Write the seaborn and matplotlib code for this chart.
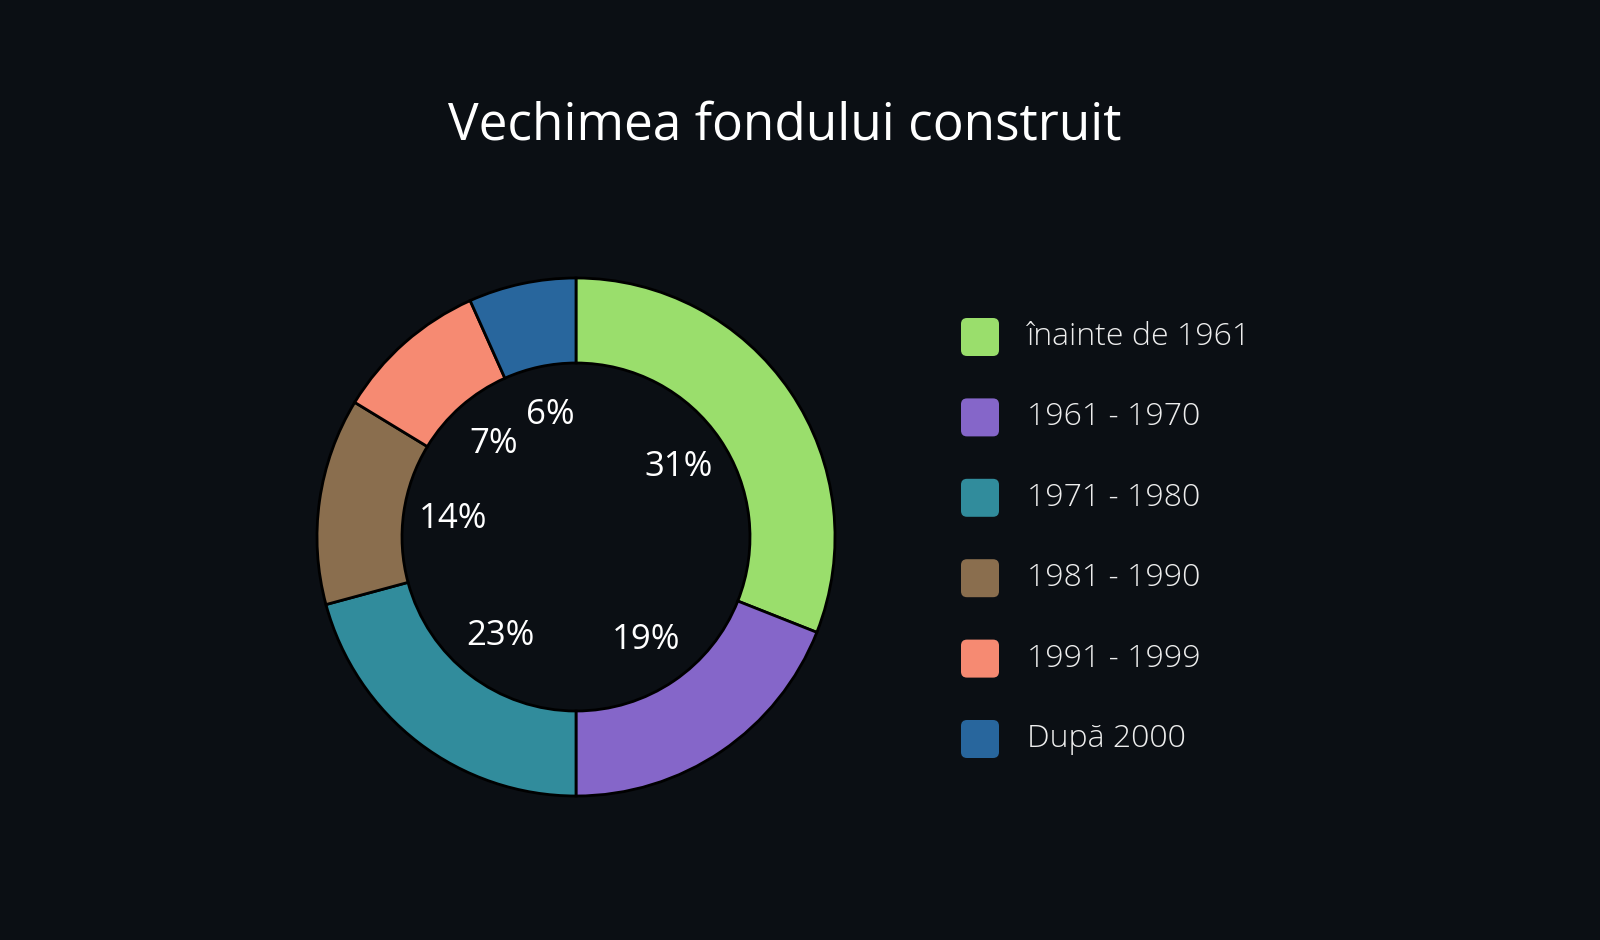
import numpy as np
import matplotlib
matplotlib.use("Agg")
import matplotlib.pyplot as plt
from matplotlib.patches import FancyBboxPatch
import seaborn as sns

# data
categories = ["înainte de 1961", "1961 - 1970", "1971 - 1980", "1981 - 1990", "1991 - 1999", "După 2000"]
shares = [31.0, 19.0, 20.8, 12.9, 9.6, 6.7]
pct_labels = ["31%", "19%", "23%", "14%", "7%", "6%"]
colors = ["#9ADE6C", "#8566C9", "#318C9C", "#8A6E4E", "#F68A72", "#28669D"]
title = "Vechimea fondului construit"

bg = "#0B0F14"
sns.set_theme(style="dark", rc={"axes.facecolor": bg, "figure.facecolor": bg})
plt.rcParams["font.family"] = ["Open Sans", "DejaVu Sans"]

W, H = 1600, 940
fig = plt.figure(figsize=(16, 9.4), dpi=100)

# donut axes (pixel layout: center 576,537, radius 259)
cx, cy, R = 576, 537, 259
half = 280
ax = fig.add_axes([(cx - half) / W, (H - cy - half) / H, 2 * half / W, 2 * half / H])
ax.pie(shares, colors=colors, startangle=90, counterclock=False, radius=1,
       wedgeprops=dict(width=85 / R, edgecolor="black", linewidth=2))
lim = half / R
ax.set_xlim(-lim, lim)
ax.set_ylim(-lim, lim)
ax.set_aspect("equal")
ax.axis("off")

# percent labels inside the hole
cum = np.cumsum([0] + shares)
total = cum[-1]
for i, lab in enumerate(pct_labels):
    mid = (cum[i] + cum[i + 1]) / 2 / total * 360
    ang = np.deg2rad(90 - mid)
    r = 0.48
    ax.text(r * np.cos(ang), r * np.sin(ang), lab, ha="center", va="center",
            fontsize=25, color="white")

fig.text(785 / W, 1 - 126 / H, title, ha="center", va="center", fontsize=37,
         color="white", fontweight="medium")

# legend drawn in a pixel-coordinate overlay
lax = fig.add_axes([0, 0, 1, 1])
lax.set_xlim(0, W)
lax.set_ylim(H, 0)
lax.axis("off")
lax.patch.set_alpha(0)
y0, dy, s = 337, 80.4, 38
for i, (cat, col) in enumerate(zip(categories, colors)):
    yc = y0 + i * dy
    lax.add_patch(FancyBboxPatch((961 + 6, yc - s / 2 + 6), s - 12, s - 12,
                                 boxstyle="round,pad=6", fc=col, ec="none"))
    lax.text(1027, yc, cat, ha="left", va="center", fontsize=23, color="#EDEDED",
             fontweight="light")

fig.savefig("out.png", dpi=100, facecolor=bg)
